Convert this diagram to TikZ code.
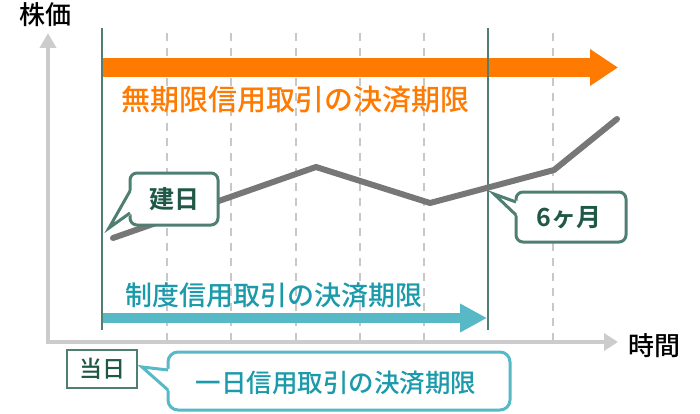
\documentclass[tikz,border=0pt]{standalone}
\usepackage{fontspec}
\setmainfont{Noto Sans CJK JP}[UprightFont=* Medium, BoldFont=* Bold]
\usetikzlibrary{arrows.meta}
\definecolor{cOrange}{HTML}{FF7A00}
\definecolor{cTeal}{HTML}{57B9C5}
\definecolor{cTealText}{HTML}{1A9AAA}
\definecolor{cGreen}{HTML}{4E7F72}
\definecolor{cGreenText}{HTML}{1F5847}
\definecolor{cLine}{HTML}{777777}
\definecolor{cAxis}{HTML}{CCCCCC}
\definecolor{cDash}{HTML}{C8C8C8}
\tikzset{
  axisline/.style={draw=cAxis, line width=4pt},
  dashline/.style={draw=cDash, line width=2pt, dash pattern=on 8pt off 7pt},
  solidline/.style={draw=cGreen, line width=2pt},
  chart/.style={draw=cLine, line width=6pt, line cap=round, line join=round},
  calloutbox/.style={draw=cGreen, line width=3pt, fill=white, rounded corners=7pt},
  tealbox/.style={draw=cTeal, line width=3pt, fill=white, rounded corners=10pt},
  lbl/.style={inner sep=0pt, font=\fontsize{25}{25}\selectfont},
}
\begin{document}
\begin{tikzpicture}[x=1pt,y=-1pt]
\useasboundingbox (0,0) rectangle (700,414);
% dashed grid
\foreach \i/\xx in {1/167,2/231,3/296,4/360,5/424,6/553}{
  \coordinate (dt\i) at (\xx,33);
  \coordinate (db\i) at (\xx,340);
  \draw[dashline] (dt\i) -- (db\i);
}
% axes
\coordinate (ytip) at (48,33);
\coordinate (origin) at (48,342);
\coordinate (xtip) at (618,342);
\draw[axisline, {Triangle[length=15pt,width=16pt]}-{Triangle[length=14pt,width=17pt]}] (ytip) -- (origin) -- (xtip);
\node[lbl, font=\fontsize{26}{26}\selectfont] (kabuka) at (45,15) {株価};
\node[lbl, font=\fontsize{26}{26}\selectfont] (jikan) at (654,346) {時間};
% orange arrow
\coordinate (oa) at (102,67.5);
\coordinate (ob) at (618,67.5);
\draw[draw=cOrange, line width=19pt, -{Triangle[length=28pt,width=35pt]}] (oa) -- (ob);
\node[lbl, text=cOrange, font=\fontsize{29}{29}\selectfont] (mukigen) at (295,100) {無期限信用取引の決済期限};
% blue arrow
\coordinate (ba) at (102,318);
\coordinate (bb) at (487,318);
\draw[draw=cTeal, line width=10pt, -{Triangle[length=27pt,width=27pt]}] (ba) -- (bb);
\node[lbl, text=cTealText, font=\fontsize{27}{27}\selectfont] (seido) at (274,295) {制度信用取引の決済期限};
% solid verticals
\coordinate (s1t) at (102,28); \coordinate (s1b) at (102,330);
\coordinate (s2t) at (488,28); \coordinate (s2b) at (488,330);
\draw[solidline] (s1t) -- (s1b);
\draw[solidline] (s2t) -- (s2b);
% chart
\coordinate (p1) at (113,238);
\coordinate (p2) at (316,167);
\coordinate (p3) at (430,203);
\coordinate (p4) at (554,170);
\coordinate (p5) at (617,119);
\draw[chart] (p1) -- (p2) -- (p3) -- (p4) -- (p5);
% callout 建日
\draw[calloutbox] (130,173) rectangle (218,225);
\coordinate (t1) at (109,228);
\fill[white] (132,190) -- (t1) -- (132,214) -- cycle;
\draw[draw=cGreen, line width=3pt, line join=miter] (130,191) -- (t1) -- (130,213);
\node[lbl, text=cGreenText, font=\bfseries\fontsize{25}{25}\selectfont] (tatebi) at (174,199) {建日};
% callout 6ヶ月
\draw[calloutbox] (516,192) rectangle (626,242);
\coordinate (t2) at (494,194);
\fill[white] (518,201) -- (t2) -- (518,216) -- cycle;
\draw[draw=cGreen, line width=3pt, line join=miter] (516,202) -- (t2) -- (516,215);
\node[lbl, text=cGreenText, font=\bfseries\fontsize{25}{25}\selectfont] (rokkagetsu) at (569,218) {6ヶ月};
% 当日
\node[draw=cGreen, line width=2pt, minimum width=70pt, minimum height=38pt, inner sep=0pt, text=cGreenText, font=\fontsize{23}{23}\selectfont] (toujitsu) at (102,369) {当日};
% blue callout
\draw[tealbox] (168,352) rectangle (510,410);
\coordinate (t3) at (142,367);
\fill[white] (170,369) -- (t3) -- (170,391) -- cycle;
\draw[draw=cTeal, line width=3pt, line join=miter] (168,370) -- (t3) -- (168,390);
\node[lbl, text=cTealText, font=\fontsize{25.5}{25.5}\selectfont] (ichinichi) at (336,383) {一日信用取引の決済期限};
\end{tikzpicture}
\end{document}
